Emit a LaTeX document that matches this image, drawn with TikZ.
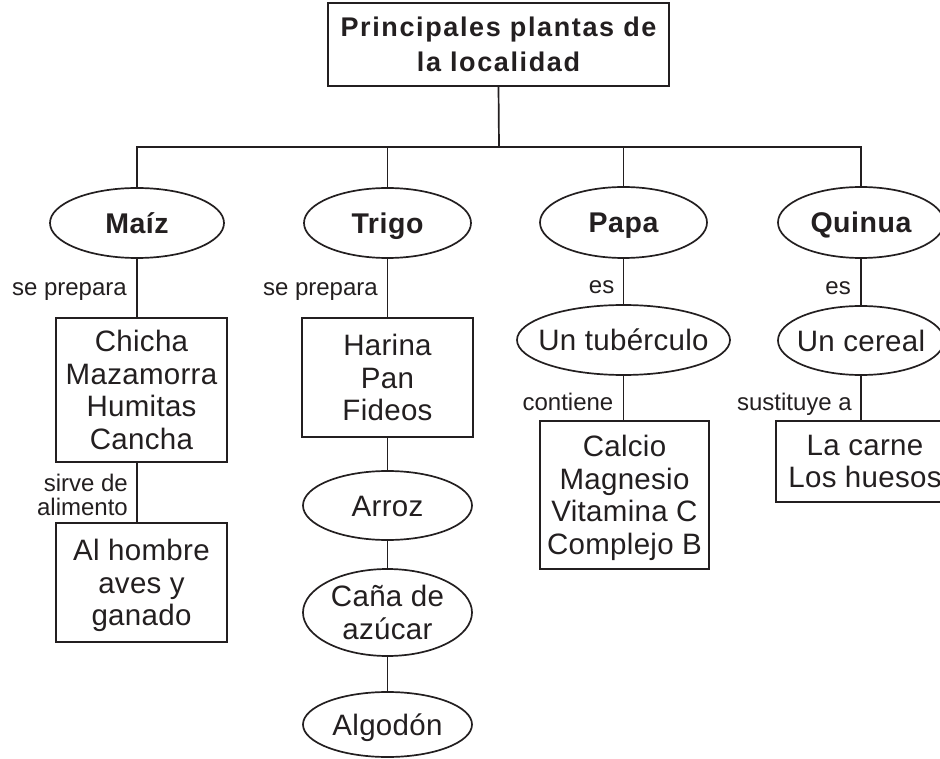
\documentclass[tikz,border=0pt]{standalone}
\usepackage{fontspec}
\setmainfont{Liberation Sans}
\usetikzlibrary{shapes.geometric}
\definecolor{ink}{RGB}{35,31,32}
\begin{document}
\begin{tikzpicture}[x=1pt,y=-1pt]
\tikzset{
  conn/.style={line width=1.7pt, draw=ink},
  boxn/.style={draw=ink, line width=1.7pt, rectangle, inner sep=0pt, outer sep=0pt, align=center, text=ink,
     font=\fontsize{29.5}{32.5}\selectfont\addfontfeature{LetterSpace=1}, text depth=0pt},
  oval/.style={draw=ink, line width=1.7pt, ellipse, inner sep=0pt, outer sep=0pt},
  bigt/.style={text=ink, inner sep=0pt, font=\fontsize{28.5}{33}\selectfont\bfseries\addfontfeature{LetterSpace=2}, text height=20.4pt, text depth=0pt},
  txt/.style={text=ink, inner sep=0pt, align=center, font=\fontsize{29.5}{32.5}\selectfont\addfontfeature{LetterSpace=1}, text height=21.1pt, text depth=0pt},
  txtm/.style={text=ink, inner sep=0pt, align=center, font=\fontsize{29.5}{32.5}\selectfont\addfontfeature{LetterSpace=1}, text depth=0pt},
  lbl/.style={text=ink, inner sep=0pt, align=right, font=\fontsize{24}{24.5}\selectfont, text depth=0pt},
}
\clip (0,0) rectangle (940,759);
\fill[white] (0,0) rectangle (940,759);

% title
\node[boxn, minimum width=341pt, minimum height=83pt,
  font=\fontsize{27}{35}\selectfont\bfseries\addfontfeature{LetterSpace=6}] (title) at (498.5,44.5)
  {Principales plantas de\\la localidad};
\coordinate (bus) at (499,147);

% first level ellipses
\node[oval, minimum width=174pt, minimum height=70pt, label={[bigt]center:Maíz}] (maiz) at (137,223) {};
\node[oval, minimum width=167pt, minimum height=70pt, label={[bigt]center:Trigo}] (trigo) at (387.5,223) {};
\node[oval, minimum width=167pt, minimum height=71pt, label={[bigt]center:Papa}] (papa) at (623.5,222.5) {};
\node[oval, minimum width=166pt, minimum height=71pt, label={[bigt]center:Quinua}] (quinua) at (861,222.5) {};

% Maiz branch
\node[boxn, minimum width=171pt, minimum height=144pt] (chicha) at (141.5,390) {Chicha\\Mazamorra\\Humitas\\Cancha};
\node[boxn, minimum width=171pt, minimum height=119pt] (hombre) at (141.5,582.5) {Al hombre\\aves y\\ganado};

% Trigo branch
\node[boxn, minimum width=171pt, minimum height=119pt] (harina) at (387.5,377.5) {Harina\\Pan\\Fideos};
\node[oval, minimum width=169pt, minimum height=69pt, label={[txt]center:Arroz}] (arroz) at (387.5,505.5) {};
\node[oval, minimum width=169pt, minimum height=87pt, label={[txtm]center:Caña de\\azúcar}] (cana) at (387.5,612.5) {};
\node[oval, minimum width=169pt, minimum height=65pt, label={[txt]center:Algodón}] (algodon) at (387.5,724.5) {};

% Papa branch
\node[oval, minimum width=213pt, minimum height=70pt, label={[txt]center:Un tubérculo}] (tuber) at (623.5,340) {};
\node[boxn, minimum width=169pt, minimum height=148pt] (calcio) at (624.5,495) {Calcio\\Magnesio\\Vitamina C\\Complejo B};

% Quinua branch
\node[oval, minimum width=166pt, minimum height=69pt, label={[txt]center:Un cereal}] (cereal) at (861,340.5) {};
\node[boxn, minimum width=178pt, minimum height=81pt] (carne) at (865,461.5) {La carne\\Los huesos};

% connectors
\draw[conn] (title.south) -- (bus);
\draw[conn] (maiz.north) |- (bus);
\draw[conn] (trigo.north) |- (bus);
\draw[conn] (papa.north) |- (bus);
\draw[conn] (quinua.north) |- (bus);

\draw[conn] (maiz.south) -- (maiz.south |- chicha.north);
\draw[conn] (maiz.south |- chicha.south) -- (maiz.south |- hombre.north);

\draw[conn] (trigo.south) -- (trigo.south |- harina.north);
\draw[conn] (trigo.south |- harina.south) -- (arroz.north);
\draw[conn] (arroz.south) -- (cana.north);
\draw[conn] (cana.south) -- (algodon.north);

\draw[conn] (papa.south) -- (tuber.north);
\draw[conn] (tuber.south) -- (tuber.south |- calcio.north);

\draw[conn] (quinua.south) -- (cereal.north);
\draw[conn] (cereal.south) -- (cereal.south |- carne.north);

% connector labels
\node[lbl, anchor=base east] (l1) at (127,296) {se prepara};
\node[lbl, anchor=south east] (l2) at (128,516) {sirve de\\alimento};
\node[lbl, anchor=base east] (l3) at (378,296) {se prepara};
\node[lbl, anchor=base east] (l4) at (614.5,294) {es};
\node[lbl, anchor=base east] (l5) at (613.5,410) {contiene};
\node[lbl, anchor=base east] (l6) at (851,295) {es};
\node[lbl, anchor=base east] (l7) at (852,410) {sustituye a};
\end{tikzpicture}
\end{document}
